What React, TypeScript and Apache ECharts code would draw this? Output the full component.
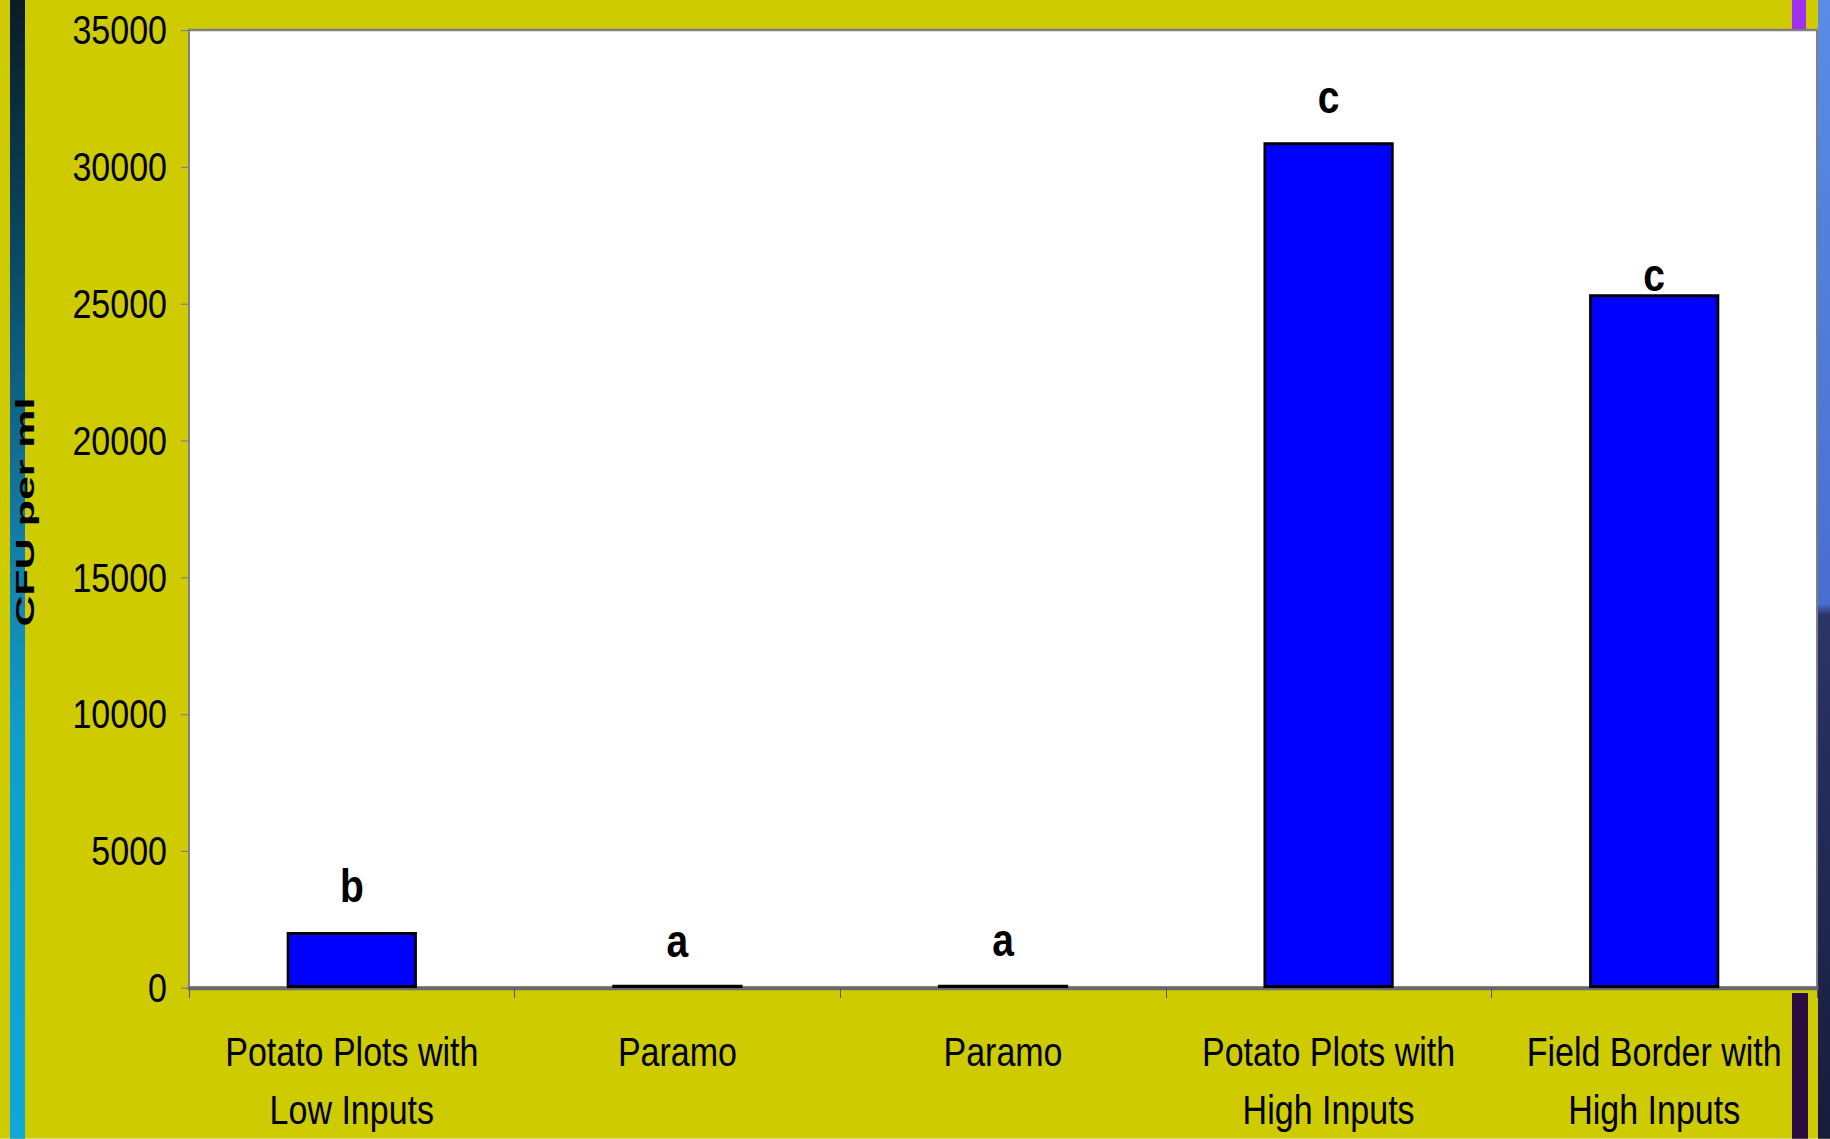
import React, { useEffect, useRef } from "react";
import * as echarts from "echarts";

const categories = [
  "Potato Plots with\nLow Inputs",
  "Paramo",
  "Paramo",
  "Potato Plots with\nHigh Inputs",
  "Field Border with\nHigh Inputs",
];
const values = [2050, 120, 120, 30900, 25350];
const letters = ["b", "a", "a", "c", "c"];
const yTicks = { min: 0, max: 35000, step: 5000 };
const axisName = "CFU per ml";

// vertical label offset above each bar (px, in unstretched units)
const labelLift = [19, 17.5, 18.4, 18.4, -3.4];

const W = 1830;
const FULL_H = 1139;
const S = 1.2; // vertical stretch of the original picture
const H = FULL_H / S;

const SANS = '"Liberation Sans", Arial, sans-serif';

export default function App() {
  const ref = useRef<HTMLDivElement>(null);
  useEffect(() => {
    document.body.style.margin = "0";
    const chart = echarts.init(ref.current!, null, { renderer: "svg" });
    const option = {
      animation: false,
      backgroundColor: "#cecc00",
      textStyle: { fontFamily: SANS },
      grid: {
        left: 189,
        top: 30 / S,
        right: 13,
        bottom: 148 / S,
        show: true,
        backgroundColor: "#ffffff",
        borderColor: "#808080",
        borderWidth: 2,
        containLabel: false,
      },
      graphic: [
        {
          type: "rect",
          shape: { x: 10, y: 0, width: 15, height: H },
          style: {
            fill: new echarts.graphic.LinearGradient(0, 0, 0, 1, [
              { offset: 0, color: "#0b1c26" },
              { offset: 0.22, color: "#0a4864" },
              { offset: 0.45, color: "#1478a2" },
              { offset: 0.65, color: "#109ecc" },
              { offset: 1, color: "#10a8d8" },
            ]),
          },
          z: 0,
        },
        {
          type: "rect",
          shape: { x: 1818, y: 0, width: 12, height: H },
          style: {
            fill: new echarts.graphic.LinearGradient(0, 0, 0, 1, [
              { offset: 0, color: "#5a8ce6" },
              { offset: 0.53, color: "#4a6ed0" },
              { offset: 0.54, color: "#2c3468" },
              { offset: 1, color: "#161c3c" },
            ]),
          },
          z: 0,
        },
        {
          type: "rect",
          shape: { x: 1792, y: 0, width: 14, height: 29 / S },
          style: { fill: "#a030f0" },
          z: 0,
        },
        {
          type: "rect",
          shape: { x: 1792, y: 993 / S, width: 16, height: H - 993 / S },
          style: { fill: "#2a0c40" },
          z: 0,
        },
        {
          type: "text",
          x: 25,
          y: 512 / S,
          rotation: Math.PI / 2,
          scaleX: 1.65 / S,
          scaleY: 1,
          style: {
            text: axisName,
            font: 'bold 26px "Liberation Sans", Arial, sans-serif',
            fill: "#000000",
            align: "center",
            verticalAlign: "middle",
          },
          z: 10,
        },
      ],
      xAxis: {
        type: "category",
        data: categories,
        axisLine: { show: true, lineStyle: { color: "#6a6a6a", width: 3.3 } },
        axisTick: { show: true, length: 10 / S, lineStyle: { color: "#555555", width: 1 } },
        axisLabel: {
          interval: 0,
          margin: 29,
          color: "#000000",
          fontSize: 34,
          lineHeight: 58 / S,
          fontFamily: SANS,
        },
        splitLine: { show: false },
      },
      yAxis: {
        type: "value",
        min: yTicks.min,
        max: yTicks.max,
        interval: yTicks.step,
        splitLine: { show: false },
        axisLine: { show: true, lineStyle: { color: "#808080", width: 2 } },
        axisTick: { show: true, length: 8, lineStyle: { color: "#808080", width: 1 } },
        axisLabel: {
          margin: 22,
          color: "#000000",
          fontSize: 34,
          fontFamily: SANS,
          formatter: (v: number) => String(v),
        },
      },
      series: [
        {
          type: "bar",
          barWidth: "40%",
          data: values.map((v, i) => ({
            value: v,
            label: {
              show: true,
              position: "top",
              distance: 0,
              offset: [0, -labelLift[i]],
              formatter: letters[i],
            },
          })),
          itemStyle: { color: "#0000ff", borderColor: "#000000", borderWidth: 2.6 },
          label: {
            color: "#000000",
            fontSize: 39,
            fontWeight: "bold",
            fontFamily: SANS,
            lineHeight: 39,
          },
        },
      ],
    };
    chart.setOption(option as any);
    return () => chart.dispose();
  }, []);
  return (
    <div style={{ position: "fixed", left: 0, top: 0, width: W, height: FULL_H, overflow: "hidden" }}>
      <div
        ref={ref}
        style={{
          width: W,
          height: H,
          transform: `scaleY(${S})`,
          transformOrigin: "0 0",
        }}
      />
    </div>
  );
}
